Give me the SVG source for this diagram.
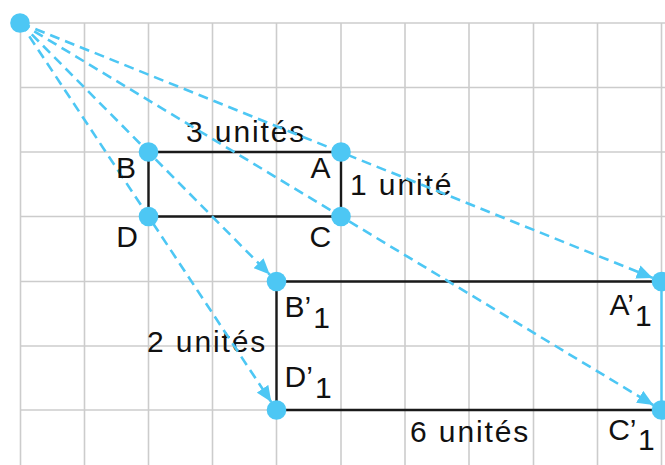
<svg xmlns="http://www.w3.org/2000/svg" width="665" height="465" viewBox="0 0 665 465">
<style>
.grid line{stroke:#cccccc;stroke-width:1.6}
.edge{stroke:#1a1a1a;stroke-width:2.4;fill:none}
.edgeb{stroke:#4dc7f4;stroke-width:2.4;fill:none}
.ray{stroke:#4dc7f4;stroke-width:2.6;stroke-dasharray:10 6;fill:none}
.dot{fill:#4dc7f4}
text{font-family:"Liberation Sans",Arial,sans-serif;font-size:30px;fill:#111}
.dim{letter-spacing:1.9px}
</style>
<defs>
<marker id="arr" markerUnits="userSpaceOnUse" viewBox="0 0 16 14" refX="16" refY="7" markerWidth="16" markerHeight="14" orient="auto">
<path d="M0,0 L16,7 L0,14 z" fill="#4dc7f4"/>
</marker>
</defs>
<rect width="665" height="465" fill="#ffffff"/>
<g class="grid">
<line x1="20.5" y1="23" x2="20.5" y2="465"/>
<line x1="84.5" y1="23" x2="84.5" y2="465"/>
<line x1="148.5" y1="23" x2="148.5" y2="465"/>
<line x1="212.5" y1="23" x2="212.5" y2="465"/>
<line x1="276.5" y1="23" x2="276.5" y2="465"/>
<line x1="341" y1="23" x2="341" y2="465"/>
<line x1="405" y1="23" x2="405" y2="465"/>
<line x1="469" y1="23" x2="469" y2="465"/>
<line x1="533.5" y1="23" x2="533.5" y2="465"/>
<line x1="597.5" y1="23" x2="597.5" y2="465"/>
<line x1="661.5" y1="23" x2="661.5" y2="465"/>
<line x1="20.5" y1="23" x2="665" y2="23"/>
<line x1="20.5" y1="87.5" x2="665" y2="87.5"/>
<line x1="20.5" y1="152" x2="665" y2="152"/>
<line x1="20.5" y1="216.5" x2="665" y2="216.5"/>
<line x1="20.5" y1="281.5" x2="665" y2="281.5"/>
<line x1="20.5" y1="346" x2="665" y2="346"/>
<line x1="20.5" y1="410" x2="665" y2="410"/>
</g>
<g id="dimensions">
<text class="dim" x="186" y="142">3 unités</text>
<text class="dim" x="350" y="195">1 unité</text>
<text class="dim" x="147" y="352">2 unités</text>
<text class="dim" x="410" y="442">6 unités</text>
</g>
<g id="connectors">
<path class="edge" d="M148.5,152 H341 V216.5 H148.5 Z"/>
<path class="edge" d="M661.5,281.5 H276.5 V410 H661.5"/>
<line class="edgeb" x1="661.5" y1="281.5" x2="661.5" y2="410"/>
<line class="ray" x1="20.5" y1="23" x2="269.8" y2="274.6" marker-end="url(#arr)"/>
<line class="ray" x1="20.5" y1="23" x2="271.3" y2="402.1" marker-end="url(#arr)"/>
<line class="ray" x1="20.5" y1="23" x2="652.7" y2="277.9" marker-end="url(#arr)"/>
<line class="ray" x1="20.5" y1="23" x2="653.4" y2="405.1" marker-end="url(#arr)"/>
</g>
<g id="O"><circle class="dot" cx="20" cy="23" r="9.8"/></g>
<g id="B"><circle class="dot" cx="148.5" cy="152" r="9.8"/><text x="116" y="178">B</text></g>
<g id="A"><circle class="dot" cx="341" cy="152" r="9.8"/><text x="310.5" y="178">A</text></g>
<g id="D"><circle class="dot" cx="148.5" cy="216.5" r="9.8"/><text x="116.2" y="247">D</text></g>
<g id="C"><circle class="dot" cx="341" cy="216.5" r="9.8"/><text x="309.5" y="247">C</text></g>
<g id="B1"><circle class="dot" cx="276.5" cy="281.5" r="9.8"/><text x="284.6" y="317">B’<tspan dx="2" dy="11">1</tspan></text></g>
<g id="A1"><circle class="dot" cx="661.5" cy="281.5" r="9.8"/><text x="609.5" y="315">A’<tspan dx="1" dy="11">1</tspan></text></g>
<g id="D1"><circle class="dot" cx="276.5" cy="410" r="9.8"/><text x="284.6" y="387">D’<tspan dx="2" dy="11">1</tspan></text></g>
<g id="C1"><circle class="dot" cx="661.5" cy="410" r="9.8"/><text x="608.2" y="440">C’<tspan dx="1.5" dy="10">1</tspan></text></g>
</svg>
